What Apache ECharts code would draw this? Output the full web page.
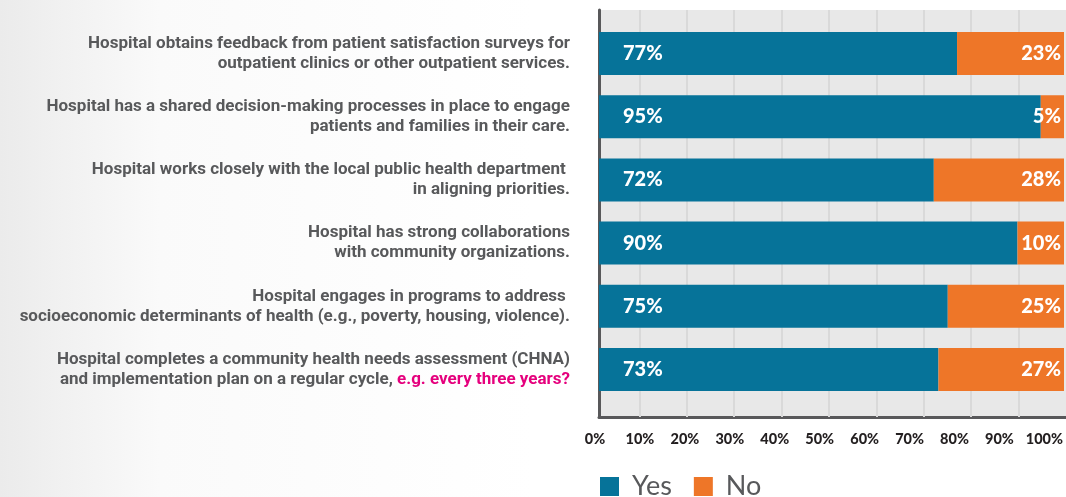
<!DOCTYPE html>
<html>
<head>
<meta charset="utf-8">
<style>
  html, body { margin: 0; padding: 0; background: #ffffff; }
  #chart { width: 1066px; height: 497px; }
</style>
<script src="https://cdn.jsdelivr.net/npm/echarts@6/dist/echarts.min.js"></script>
</head>
<body>
<div id="chart"></div>
<script>
// Survey statements (top to bottom)
const categories = [
  'Hospital obtains feedback from patient satisfaction surveys for\noutpatient clinics or other outpatient services.',
  'Hospital has a shared decision-making processes in place to engage\npatients and families in their care.',
  'Hospital works closely with the local public health department \nin aligning priorities.',
  'Hospital has strong collaborations\nwith community organizations.',
  'Hospital engages in programs to address \nsocioeconomic determinants of health (e.g., poverty, housing, violence).',
  'Hospital completes a community health needs assessment (CHNA)\nand implementation plan on a regular cycle, e.g. every three years?'
];
// Part of a statement printed in the accent colour
const highlight = 'e.g. every three years?';

const seriesNames = ['Yes', 'No'];
const yesValues = [77, 95, 72, 90, 75, 73];
const noValues = [23, 5, 28, 10, 25, 27];

const tickMin = 0;
const tickMax = 100;
const tickStep = 10;

const BLUE = '#067399';
const ORANGE = '#ee7628';
const TEXT_GREY = '#58595b';

function statementLabel(text) {
  return text.split('\n').map(function (line) {
    const i = line.indexOf(highlight);
    if (i >= 0) {
      return '{t|' + line.slice(0, i) + '}{p|' + highlight + '}';
    }
    return '{t|' + line + '}';
  }).join('\n');
}

const chart = echarts.init(document.getElementById('chart'));

const hiddenY = function (gi) {
  return { gridIndex: gi, type: 'value', show: false, min: 0, max: 1 };
};

const option = {
  backgroundColor: new echarts.graphic.LinearGradient(0, 0, 1, 0, [
    { offset: 0, color: '#ebebeb' },
    { offset: 0.15, color: '#fafafa' },
    { offset: 0.5, color: '#ffffff' },
    { offset: 1, color: '#ffffff' }
  ]),
  animation: false,
  legend: {
    data: seriesNames,
    left: 600,
    top: 473,
    padding: 0,
    icon: 'rect',
    itemWidth: 19,
    itemHeight: 19,
    itemGap: 22,
    textStyle: {
      fontFamily: 'Lato',
      fontSize: 27,
      lineHeight: 27,
      color: TEXT_GREY,
      padding: [0, 0, 0, 8]
    }
  },
  grid: [
    // plot panel with its frame
    { left: 599, right: 0, top: 10, bottom: 80, show: true, backgroundColor: '#e8e8e8', borderWidth: 0 },
    // vertical guide lines
    { left: 592, right: 0, top: 10, bottom: 80 },
    // percentage tick labels
    { left: 595, width: 451, top: 10, bottom: 80 },
    // bars
    { left: 599, right: 2, top: 22, bottom: 96 }
  ],
  xAxis: [
    {
      gridIndex: 0, type: 'value', min: tickMin, max: tickMax,
      axisLine: { show: true, lineStyle: { color: '#58585a', width: 3 } },
      axisTick: { show: false }, axisLabel: { show: false }, splitLine: { show: false }
    },
    {
      gridIndex: 1, type: 'value', min: tickMin, max: tickMax, interval: tickStep, z: 1,
      axisLine: { show: false }, axisTick: { show: false }, axisLabel: { show: false },
      splitLine: { show: true, showMinLine: false, showMaxLine: false, lineStyle: { color: '#d9d9d9', width: 2 } }
    },
    {
      gridIndex: 2, type: 'value', min: tickMin, max: tickMax, interval: tickStep,
      axisLine: { show: false }, axisTick: { show: false }, splitLine: { show: false },
      axisLabel: {
        formatter: '{value}%', margin: 15,
        fontFamily: 'Lato', fontWeight: 900, fontSize: 14.5, color: '#231f20'
      }
    },
    { gridIndex: 3, type: 'value', min: tickMin, max: tickMax, show: false }
  ],
  yAxis: [
    {
      gridIndex: 0, type: 'value', min: 0, max: 1,
      axisLine: { show: true, lineStyle: { color: '#58585a', width: 3 } },
      axisTick: { show: false }, axisLabel: { show: false }, splitLine: { show: false }
    },
    hiddenY(1),
    hiddenY(2),
    {
      gridIndex: 3, type: 'category', inverse: true, data: categories,
      axisLine: { show: false }, axisTick: { show: false },
      axisLabel: {
        margin: 29,
        align: 'right',
        formatter: statementLabel,
        rich: {
          t: { fontFamily: 'Roboto', fontWeight: 'bold', fontSize: 17, lineHeight: 20, color: TEXT_GREY },
          p: { fontFamily: 'Roboto', fontWeight: 'bold', fontSize: 17, lineHeight: 20, color: '#e5007d' }
        }
      }
    }
  ],
  series: [
    {
      name: seriesNames[0], type: 'bar', stack: 'total',
      xAxisIndex: 3, yAxisIndex: 3,
      barCategoryGap: '32%',
      data: yesValues,
      itemStyle: { color: BLUE },
      label: {
        show: true, position: 'insideLeft', distance: 24,
        formatter: '{c}%', color: '#ffffff',
        fontFamily: 'Lato', fontWeight: 900, fontSize: 20
      }
    },
    {
      name: seriesNames[1], type: 'bar', stack: 'total',
      xAxisIndex: 3, yAxisIndex: 3,
      barCategoryGap: '32%',
      data: noValues,
      itemStyle: { color: ORANGE },
      label: {
        show: true, position: 'insideRight', distance: 3,
        formatter: '{c}%', color: '#ffffff',
        fontFamily: 'Lato', fontWeight: 900, fontSize: 20
      }
    }
  ]
};

chart.setOption(option);
</script>
</body>
</html>
